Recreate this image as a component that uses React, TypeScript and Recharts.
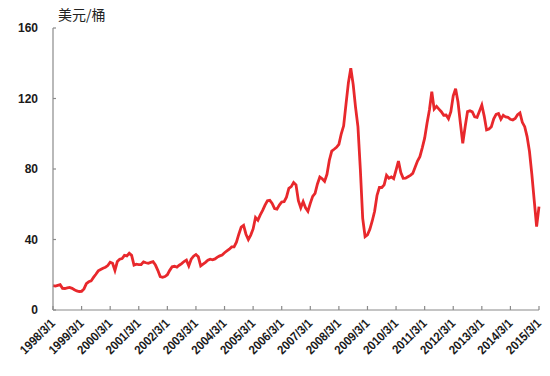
import React from 'react';
import { LineChart, Line, XAxis, YAxis } from 'recharts';

const tickLabels = [
  '1998/3/1', '1999/3/1', '2000/3/1', '2001/3/1', '2002/3/1', '2003/3/1',
  '2004/3/1', '2005/3/1', '2006/3/1', '2007/3/1', '2008/3/1', '2009/3/1',
  '2010/3/1', '2011/3/1', '2012/3/1', '2013/3/1', '2014/3/1', '2015/3/1',
];

const yTicks = [0, 40, 80, 120, 160];

// monthly price, USD/barrel, from 1998/3 to 2015/3
const prices = [
  13.8, 13.6, 14.0, 14.4, 12.3, 12.2, 12.5, 12.8, 12.3, 11.5, 10.8, 10.5,
  10.6, 12.0, 15.0, 16.0, 16.5, 18.5, 20.3, 22.2, 23.0, 23.7, 24.3, 25.2,
  27.1, 26.5, 22.5, 27.5, 28.8, 29.2, 31.0, 30.7, 32.2, 31.0, 25.5, 26.0,
  25.8, 25.8, 27.3, 26.8, 26.5, 27.0, 27.4, 25.5, 22.5, 19.0, 18.6, 19.0,
  20.0, 22.5, 24.5, 24.8, 24.3, 25.4, 26.3, 27.5, 28.3, 25.0, 28.8, 30.5,
  31.5, 30.2, 25.0, 26.0, 27.0, 28.2, 28.8, 28.5, 29.0, 30.0, 30.7, 31.2,
  32.5, 33.5, 34.5, 35.8, 35.8, 38.5, 43.0, 47.0, 48.0, 43.0, 40.0, 42.5,
  46.0, 52.5, 51.0, 54.0, 56.5, 59.5, 62.0, 62.2, 60.5, 57.5, 57.2, 59.5,
  61.3, 61.5, 64.0, 69.0, 70.0, 72.3, 71.0, 62.0, 58.0, 61.5, 58.0, 56.0,
  60.5, 64.5, 66.2, 71.5, 75.5, 74.5, 73.0, 77.0, 85.0, 90.2, 91.2, 92.3,
  94.0, 100.0, 104.5, 117.0, 129.0, 137.2, 128.0, 115.0, 104.0, 80.0, 52.0, 41.6,
  42.6, 45.8, 50.5, 56.0, 65.0, 69.5, 69.5, 71.0, 76.4, 74.8, 75.5, 74.5,
  79.4, 84.5, 78.0, 74.7, 74.8, 75.6, 76.4, 77.5, 81.0, 84.5, 87.0, 92.0,
  97.5, 106.0, 113.5, 123.9, 114.0, 115.5, 114.0, 112.5, 110.5, 110.6, 108.5, 112.5,
  121.5, 125.5, 118.0, 106.0, 94.6, 104.0, 112.6, 113.0, 112.4, 109.6, 109.3, 112.8,
  116.3, 110.0, 102.2, 102.7, 104.0, 108.5, 111.0, 111.5, 108.3, 110.5, 109.5, 109.3,
  108.2, 107.8, 108.7, 110.8, 111.8, 106.5, 104.0, 98.4, 90.0, 77.0, 62.0, 47.3,
  58.7,
];

const data = prices.map((price, m) => ({ m, price }));
const xTicks = tickLabels.map((_, i) => i * 12);

const FONT = '"Liberation Sans", Arial, sans-serif';

const XTick = (props: any) => {
  const { x, y, payload } = props;
  const label = tickLabels[Math.round(payload.value / 12)];
  const ax = x + 3;
  const ay = y + 14;
  return (
    <g transform={`translate(${ax}, ${ay}) rotate(-45) scale(0.9, 1)`}>
      <text
        x={0}
        y={0}
        textAnchor="end"
        fontFamily={FONT}
        fontWeight="bold"
        fontSize={12.5}
        fill="#1a1a1a"
      >
        {label}
      </text>
    </g>
  );
};

const YTitle = (props: any) => {
  const vb = props.viewBox || { x: 0, y: 28, width: 53 };
  return (
    <text
      x={vb.x + vb.width + 5}
      y={vb.y - 8}
      fontFamily='"Noto Sans CJK SC", sans-serif'
      fontSize={14}
      fill="#222"
    >
      美元/桶
    </text>
  );
};

export default function App() {
  return (
    <div style={{ position: 'absolute', left: 0, top: 0, width: 550, height: 376, background: '#fff' }}>
      <LineChart width={550} height={376} data={data} margin={{ top: 28, right: 11, bottom: 0, left: 0 }}>
        <XAxis
          dataKey="m"
          type="number"
          domain={[0, 204]}
          ticks={xTicks}
          interval={0}
          height={66}
          axisLine={{ stroke: '#8a8a8a', strokeWidth: 1.2 }}
          tickLine={{ stroke: '#8a8a8a', strokeWidth: 1.2 }}
          tickSize={-4}
          tickMargin={4}
          tick={<XTick />}
        />
        <YAxis
          type="number"
          domain={[0, 160]}
          ticks={yTicks}
          interval={0}
          width={53}
          axisLine={{ stroke: '#8a8a8a', strokeWidth: 1.2 }}
          tickLine={{ stroke: '#8a8a8a', strokeWidth: 1.2 }}
          tickSize={-3}
          tickMargin={18}
          tick={{ fontFamily: FONT, fontWeight: 'bold', fontSize: 12, fill: '#1a1a1a' }}
          label={<YTitle />}
        />
        <Line
          type="linear"
          dataKey="price"
          stroke="#e8282c"
          strokeWidth={2.8}
          dot={false}
          isAnimationActive={false}
        />
      </LineChart>
    </div>
  );
}
